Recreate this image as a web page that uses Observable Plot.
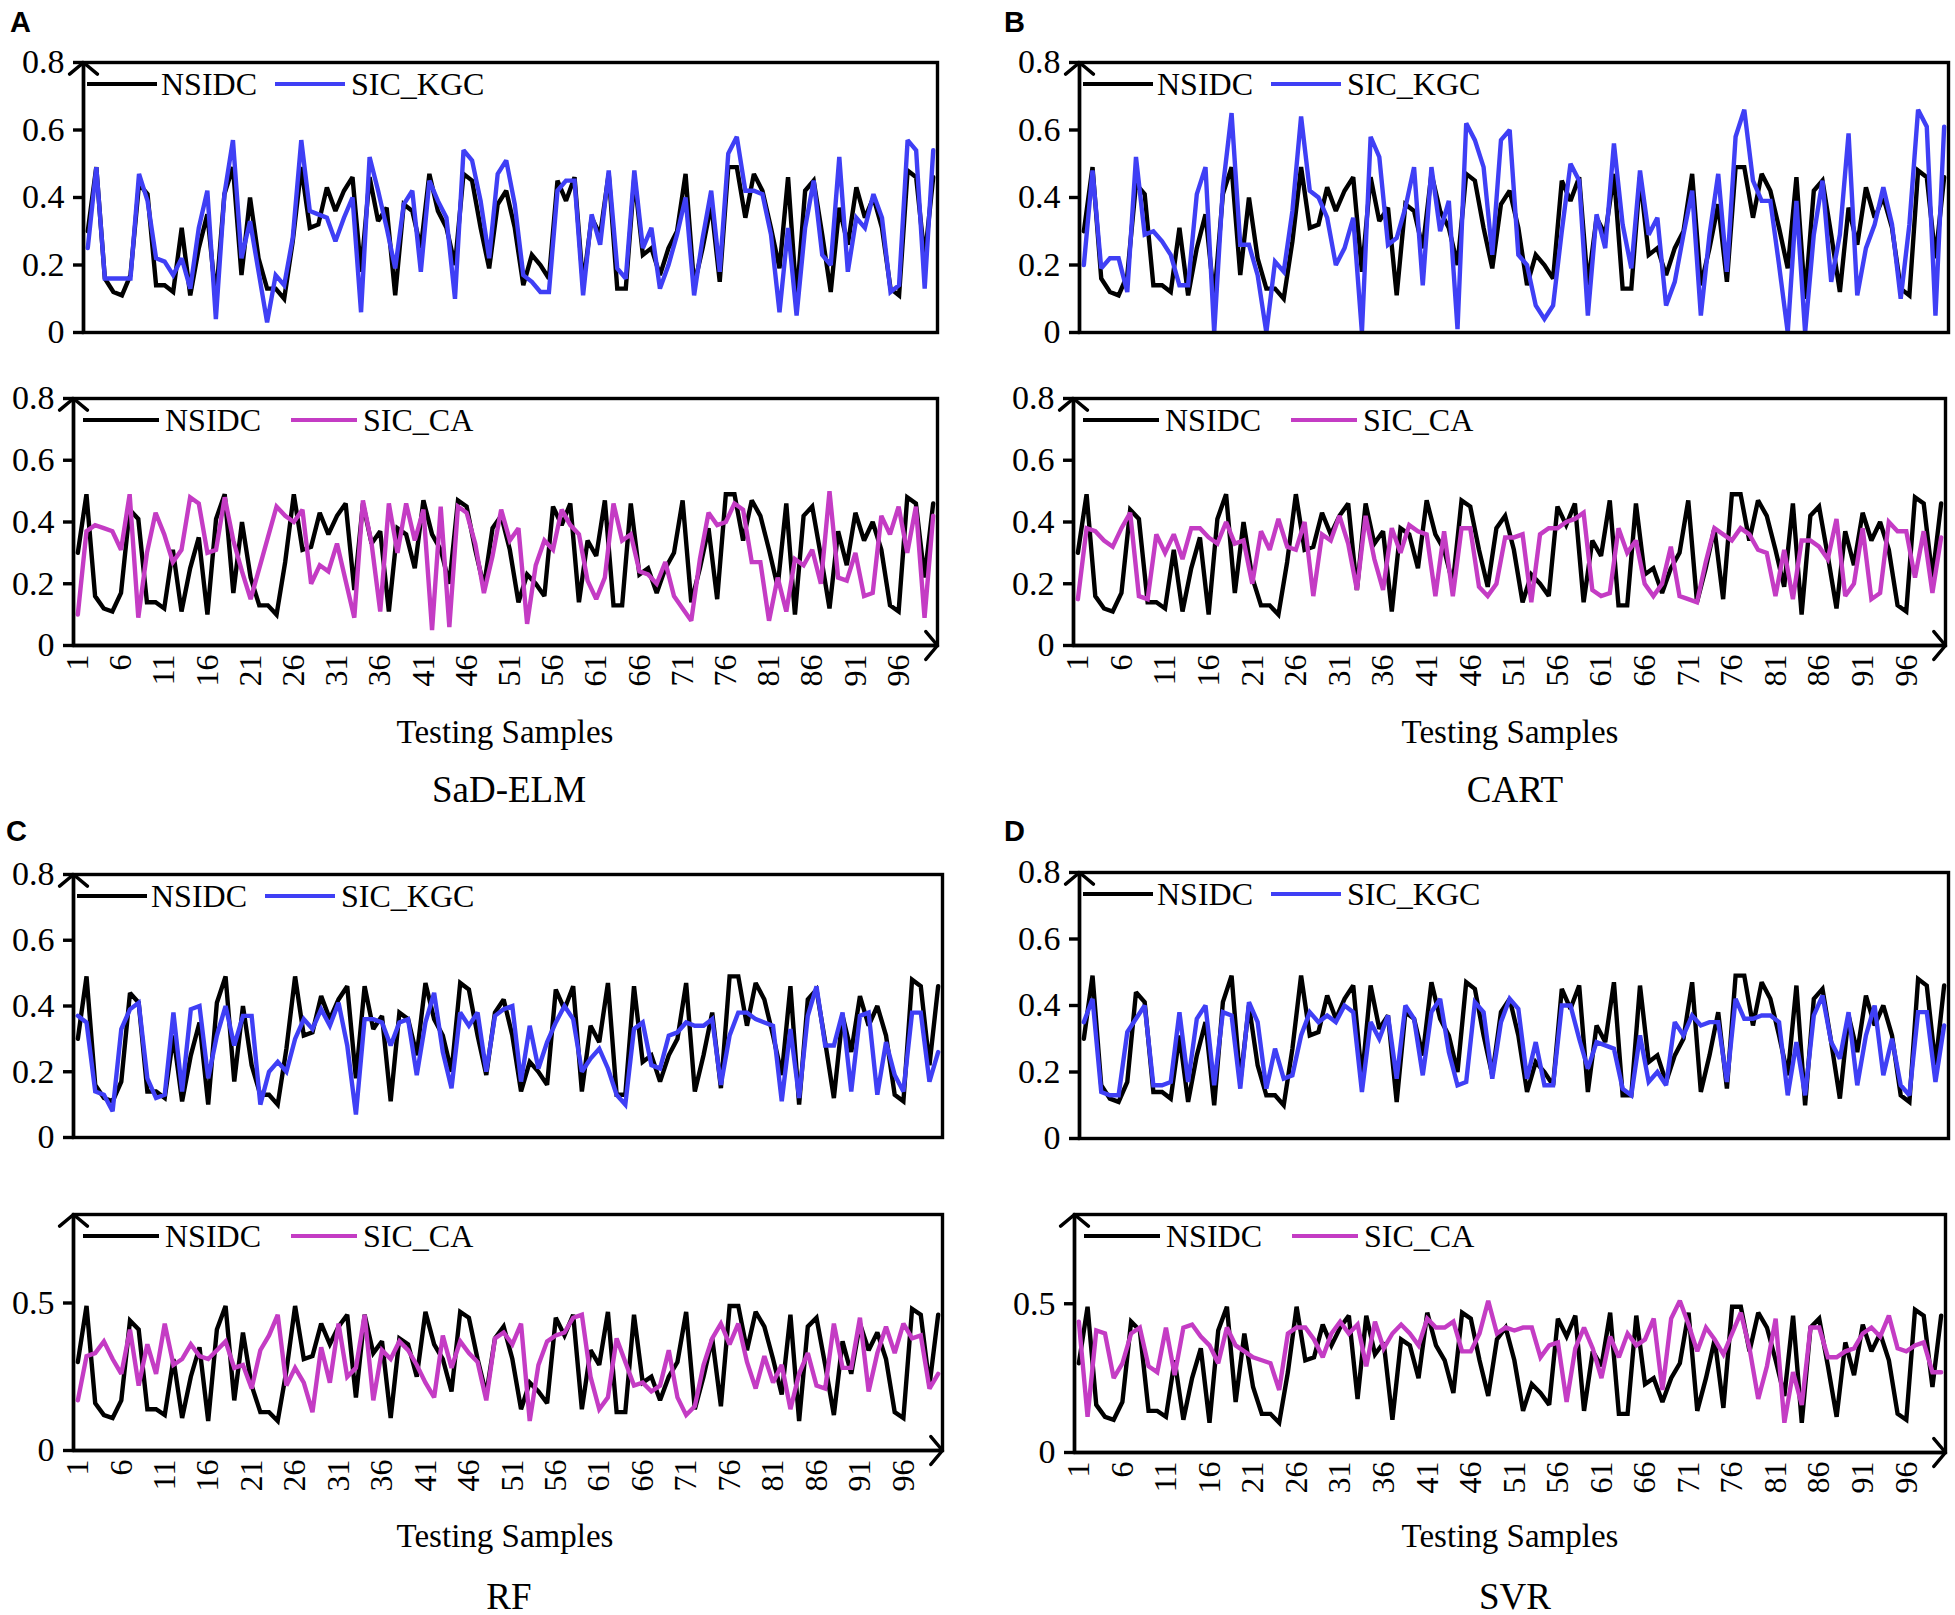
<!DOCTYPE html>
<html>
<head>
<meta charset="utf-8">
<script src="https://cdn.jsdelivr.net/npm/d3@7"></script>
<script src="https://cdn.jsdelivr.net/npm/@observablehq/plot@0.6"></script>
<style>
  html, body { margin: 0; padding: 0; background: #fff; }
  #root { position: relative; width: 1955px; height: 1615px; overflow: hidden; background: #fff; font-family: "Liberation Serif", "Times New Roman", serif; color: #000; }
  .abs { position: absolute; }
  .letter { font-family: "Liberation Sans", Arial, sans-serif; font-weight: bold; font-size: 29px; line-height: 1; }
  .xtitle { font-size: 33px; white-space: nowrap; transform: translate(-50%, -50%); line-height: 1; }
  .caption { font-size: 37px; white-space: nowrap; transform: translate(-50%, -50%); line-height: 1; }
  .legtext { font-size: 32px; white-space: nowrap; line-height: 1; transform: translateY(-50%); }
  .legline { height: 0; border-top: 4px solid #000; transform: translateY(-50%); }
</style>
</head>
<body>
<div id="root"></div>
<script>
// ---------- data ----------
const samples = Array.from({length: 100}, (_, i) => i + 1);
const xTickLabels = [1, 6, 11, 16, 21, 26, 31, 36, 41, 46, 51, 56, 61, 66, 71, 76, 81, 86, 91, 96];
const yTicksFull = [0, 0.2, 0.4, 0.6, 0.8];
const yTicksHalf = [0, 0.5];

const nsidc = [
  0.30,0.49,0.16,0.12,0.11,0.17,0.44,0.41,0.14,0.14,
  0.12,0.31,0.11,0.25,0.35,0.10,0.41,0.49,0.17,0.40,
  0.22,0.13,0.13,0.10,0.27,0.49,0.31,0.32,0.43,0.36,
  0.42,0.46,0.18,0.46,0.33,0.37,0.11,0.38,0.36,0.25,
  0.47,0.36,0.31,0.20,0.47,0.45,0.31,0.19,0.38,0.42,
  0.31,0.14,0.23,0.20,0.16,0.45,0.39,0.46,0.14,0.34,
  0.29,0.47,0.13,0.13,0.46,0.23,0.25,0.17,0.25,0.30,
  0.47,0.14,0.25,0.38,0.15,0.49,0.49,0.34,0.47,0.42,
  0.31,0.19,0.46,0.10,0.42,0.45,0.29,0.12,0.37,0.26,
  0.43,0.34,0.40,0.31,0.13,0.11,0.48,0.46,0.22,0.46
];

const kgcSaDELM = [
  0.25,0.49,0.16,0.16,0.16,0.16,0.47,0.39,0.22,0.21,
  0.17,0.22,0.13,0.31,0.42,0.04,0.41,0.57,0.22,0.33,
  0.18,0.03,0.17,0.14,0.28,0.57,0.36,0.35,0.34,0.27,
  0.34,0.40,0.06,0.52,0.42,0.31,0.19,0.38,0.42,0.18,
  0.45,0.39,0.34,0.10,0.54,0.51,0.39,0.22,0.47,0.51,
  0.38,0.17,0.15,0.12,0.12,0.42,0.45,0.45,0.11,0.35,
  0.26,0.48,0.19,0.16,0.48,0.25,0.31,0.13,0.20,0.29,
  0.40,0.11,0.28,0.42,0.18,0.53,0.58,0.42,0.42,0.41,
  0.29,0.06,0.31,0.05,0.31,0.45,0.23,0.20,0.52,0.18,
  0.34,0.31,0.41,0.34,0.12,0.14,0.57,0.54,0.13,0.54
];
const caSaDELM = [
  0.10,0.37,0.39,0.38,0.37,0.31,0.49,0.09,0.30,0.43,
  0.36,0.27,0.31,0.48,0.46,0.30,0.31,0.48,0.34,0.24,
  0.15,0.25,0.35,0.45,0.42,0.40,0.44,0.20,0.26,0.24,
  0.33,0.21,0.09,0.47,0.33,0.11,0.46,0.30,0.46,0.34,
  0.44,0.05,0.45,0.06,0.45,0.43,0.33,0.17,0.29,0.44,
  0.34,0.38,0.07,0.26,0.34,0.31,0.44,0.39,0.36,0.21,
  0.15,0.22,0.46,0.34,0.36,0.24,0.23,0.20,0.27,0.16,
  0.12,0.08,0.28,0.43,0.39,0.40,0.46,0.44,0.27,0.27,
  0.08,0.22,0.11,0.28,0.26,0.31,0.20,0.50,0.22,0.21,
  0.30,0.16,0.17,0.42,0.36,0.45,0.30,0.45,0.09,0.42
];
const kgcCART = [
  0.20,0.48,0.19,0.22,0.22,0.12,0.52,0.29,0.30,0.27,
  0.23,0.14,0.14,0.41,0.49,0.00,0.43,0.65,0.26,0.26,
  0.17,0.00,0.21,0.18,0.36,0.64,0.42,0.40,0.34,0.20,
  0.25,0.34,0.00,0.58,0.52,0.26,0.28,0.37,0.49,0.14,
  0.49,0.30,0.39,0.01,0.62,0.57,0.49,0.23,0.57,0.60,
  0.23,0.20,0.08,0.04,0.08,0.30,0.50,0.45,0.05,0.35,
  0.25,0.56,0.32,0.19,0.48,0.29,0.34,0.08,0.15,0.29,
  0.42,0.05,0.29,0.47,0.18,0.58,0.66,0.45,0.39,0.39,
  0.20,0.00,0.39,0.00,0.29,0.45,0.15,0.29,0.59,0.11,
  0.25,0.32,0.43,0.32,0.10,0.32,0.66,0.61,0.05,0.61
];
const caCART = [
  0.15,0.38,0.37,0.34,0.32,0.38,0.43,0.16,0.15,0.36,
  0.30,0.36,0.28,0.38,0.38,0.35,0.33,0.40,0.33,0.34,
  0.20,0.37,0.31,0.41,0.32,0.31,0.40,0.16,0.36,0.34,
  0.42,0.33,0.18,0.42,0.28,0.18,0.38,0.30,0.39,0.37,
  0.36,0.16,0.37,0.16,0.38,0.38,0.19,0.16,0.20,0.35,
  0.35,0.36,0.14,0.36,0.38,0.38,0.40,0.41,0.43,0.18,
  0.16,0.17,0.38,0.30,0.34,0.20,0.16,0.20,0.32,0.16,
  0.15,0.14,0.27,0.38,0.36,0.34,0.38,0.36,0.31,0.30,
  0.16,0.31,0.15,0.34,0.34,0.32,0.28,0.41,0.16,0.20,
  0.38,0.15,0.17,0.40,0.37,0.37,0.22,0.37,0.17,0.35
];
const kgcRF = [
  0.37,0.35,0.14,0.13,0.08,0.33,0.39,0.41,0.18,0.12,
  0.13,0.38,0.14,0.39,0.40,0.18,0.31,0.40,0.28,0.37,
  0.37,0.10,0.20,0.23,0.20,0.30,0.36,0.33,0.39,0.34,
  0.41,0.28,0.07,0.36,0.36,0.35,0.28,0.35,0.36,0.19,
  0.35,0.44,0.26,0.15,0.38,0.34,0.38,0.20,0.37,0.39,
  0.40,0.17,0.34,0.21,0.29,0.35,0.40,0.36,0.20,0.24,
  0.27,0.21,0.13,0.10,0.33,0.35,0.22,0.21,0.31,0.32,
  0.35,0.34,0.34,0.36,0.16,0.31,0.38,0.38,0.36,0.35,
  0.34,0.11,0.33,0.12,0.37,0.46,0.28,0.28,0.38,0.14,
  0.37,0.38,0.13,0.29,0.19,0.14,0.38,0.38,0.17,0.26
];
const caRF = [
  0.17,0.32,0.33,0.37,0.31,0.26,0.41,0.22,0.36,0.26,
  0.43,0.29,0.31,0.36,0.32,0.31,0.34,0.37,0.28,0.29,
  0.21,0.34,0.39,0.46,0.22,0.28,0.23,0.13,0.35,0.23,
  0.43,0.25,0.28,0.46,0.17,0.34,0.31,0.37,0.34,0.29,
  0.23,0.18,0.39,0.28,0.37,0.33,0.30,0.17,0.38,0.40,
  0.36,0.43,0.10,0.29,0.37,0.39,0.40,0.45,0.46,0.25,
  0.14,0.18,0.38,0.30,0.22,0.23,0.20,0.22,0.34,0.18,
  0.12,0.15,0.29,0.38,0.43,0.36,0.43,0.30,0.21,0.32,
  0.23,0.29,0.14,0.26,0.33,0.22,0.21,0.43,0.28,0.28,
  0.45,0.20,0.33,0.42,0.33,0.43,0.38,0.39,0.21,0.26
];
const kgcSVR = [
  0.35,0.42,0.14,0.13,0.13,0.32,0.36,0.40,0.16,0.16,
  0.17,0.38,0.17,0.36,0.40,0.16,0.38,0.37,0.15,0.41,
  0.35,0.15,0.27,0.18,0.19,0.31,0.38,0.35,0.37,0.35,
  0.40,0.38,0.14,0.35,0.30,0.37,0.18,0.40,0.36,0.19,
  0.38,0.42,0.26,0.16,0.17,0.41,0.38,0.18,0.35,0.42,
  0.39,0.18,0.29,0.16,0.16,0.40,0.40,0.30,0.21,0.29,
  0.28,0.27,0.15,0.13,0.31,0.17,0.20,0.16,0.35,0.31,
  0.37,0.34,0.35,0.35,0.17,0.42,0.36,0.36,0.37,0.37,
  0.35,0.13,0.29,0.13,0.37,0.43,0.29,0.24,0.38,0.16,
  0.31,0.40,0.19,0.30,0.16,0.13,0.38,0.38,0.17,0.34
];
const caSVR = [
  0.44,0.12,0.41,0.40,0.25,0.30,0.40,0.42,0.29,0.27,
  0.42,0.26,0.42,0.43,0.39,0.36,0.30,0.42,0.36,0.34,
  0.32,0.31,0.30,0.21,0.40,0.42,0.42,0.38,0.32,0.40,
  0.44,0.40,0.43,0.29,0.44,0.35,0.40,0.43,0.40,0.36,
  0.45,0.42,0.42,0.44,0.34,0.34,0.40,0.51,0.40,0.42,
  0.41,0.42,0.42,0.32,0.36,0.37,0.17,0.35,0.42,0.35,
  0.25,0.39,0.32,0.40,0.36,0.38,0.45,0.21,0.45,0.51,
  0.43,0.34,0.42,0.38,0.33,0.40,0.47,0.35,0.18,0.29,
  0.45,0.10,0.27,0.16,0.42,0.42,0.32,0.32,0.34,0.35,
  0.40,0.42,0.39,0.46,0.35,0.34,0.36,0.37,0.27,0.27
];

const panelLetters = ["A", "B", "C", "D"];
const methodNames = ["SaD-ELM", "CART", "RF", "SVR"];
const kgcSeries = [kgcSaDELM, kgcCART, kgcRF, kgcSVR];
const caSeries = [caSaDELM, caCART, caRF, caSVR];
const obsName = "NSIDC";
const kgcName = "SIC_KGC";
const caName = "SIC_CA";
const xTitle = "Testing Samples";

// ---------- styles / layout ----------
const BLUE = "#3f3ff5";
const MAGENTA = "#c43cc4";
const LINE_W = 4.4;
const FRAME_W = 3.4;
const xDomain = [0.5, 100.5];
const yDomain = [0, 0.8];

const layout = [
  { letter: [10, 8],    top: [83, 937, 62, 332],    bot: [73, 937, 398, 645],    caTicks: yTicksFull, xt: [505, 732],  cap: [509, 789] },
  { letter: [1004, 8],  top: [1079, 1948, 62, 332], bot: [1073, 1945, 398, 645], caTicks: yTicksFull, xt: [1510, 732], cap: [1515, 789] },
  { letter: [6, 817],   top: [73, 942, 874, 1137],  bot: [73, 942, 1214, 1450],  caTicks: yTicksHalf, xt: [505, 1536], cap: [509, 1596] },
  { letter: [1004, 817],top: [1079, 1948, 872, 1138], bot: [1074, 1945, 1214, 1452], caTicks: yTicksHalf, xt: [1510, 1536], cap: [1515, 1596] }
];

const root = document.getElementById("root");

function addDiv(cls, x, y, text, extra) {
  const d = document.createElement("div");
  d.className = "abs " + cls;
  d.style.left = x + "px";
  d.style.top = y + "px";
  if (text != null) d.textContent = text;
  if (extra) Object.assign(d.style, extra);
  root.appendChild(d);
  return d;
}

// arrowhead size is relative to stroke width in Plot.arrow
const arrowOpts = { stroke: "#000", strokeWidth: FRAME_W, headLength: 8, headAngle: 100 };

function makeChart(box, pred, color, yTicks, showX) {
  const [x0, x1, y0, y1] = box;
  const ml = 95, mr = 14, mt = 14, mb = showX ? 85 : 12;
  const rows = samples.map((s, i) => ({ s, obs: nsidc[i], pred: pred[i] }));
  const marks = [
    Plot.lineY(rows, { x: "s", y: "obs", stroke: "#000", strokeWidth: LINE_W, strokeLinejoin: "miter", strokeMiterlimit: 2.5 }),
    Plot.lineY(rows, { x: "s", y: "pred", stroke: color, strokeWidth: LINE_W, strokeLinejoin: "miter", strokeMiterlimit: 2.5 }),
    Plot.frame({ stroke: "#000", strokeWidth: FRAME_W }),
    Plot.axisY({ ticks: yTicks, tickSize: 10, tickPadding: 9, strokeWidth: FRAME_W, tickFormat: d => String(d), label: null, fontSize: 34 }),
    Plot.arrow([0], { x1: () => xDomain[0], y1: () => yDomain[0], x2: () => xDomain[0], y2: () => yDomain[1], ...arrowOpts })
  ];
  if (showX) {
    marks.push(Plot.axisX({ ticks: xTickLabels, tickSize: 0, tickPadding: 9, tickRotate: -90, textAnchor: "end", label: null, fontSize: 32 }));
    marks.push(Plot.arrow([0], { x1: () => xDomain[0], y1: () => yDomain[0], x2: () => xDomain[1], y2: () => yDomain[0], ...arrowOpts }));
  }
  const svg = Plot.plot({
    width: x1 - x0 + ml + mr,
    height: y1 - y0 + mt + mb,
    marginLeft: ml, marginRight: mr, marginTop: mt, marginBottom: mb,
    x: showX ? { domain: xDomain } : { domain: xDomain, axis: null },
    y: { domain: yDomain, axis: null },
    style: { fontFamily: "Liberation Serif, Times New Roman, serif", fontSize: "32px", color: "#000", background: "transparent", overflow: "visible" },
    marks
  });
  svg.style.position = "absolute";
  svg.style.left = (x0 - ml) + "px";
  svg.style.top = (y0 - mt) + "px";
  root.appendChild(svg);
}

function addLegend(box, color, name2, offs) {
  const [x0, , y0] = box;
  const y = y0 + 22;
  addDiv("legline", x0 + offs[0], y, null, { width: (offs[1] - offs[0]) + "px", borderTopColor: "#000" });
  addDiv("legtext", x0 + offs[2], y, obsName);
  addDiv("legline", x0 + offs[3], y, null, { width: (offs[4] - offs[3]) + "px", borderTopColor: color });
  addDiv("legtext", x0 + offs[5], y, name2);
}

layout.forEach((L, k) => {
  addDiv("letter", L.letter[0], L.letter[1], panelLetters[k]);
  makeChart(L.top, kgcSeries[k], BLUE, yTicksFull, false);
  makeChart(L.bot, caSeries[k], MAGENTA, L.caTicks, true);
  addLegend(L.top, BLUE, kgcName, [4, 74, 78, 192, 262, 268]);
  addLegend(L.bot, MAGENTA, caName, [10, 86, 92, 218, 284, 290]);
  addDiv("xtitle", L.xt[0], L.xt[1], xTitle);
  addDiv("caption", L.cap[0], L.cap[1], methodNames[k]);
});
</script>
</body>
</html>
